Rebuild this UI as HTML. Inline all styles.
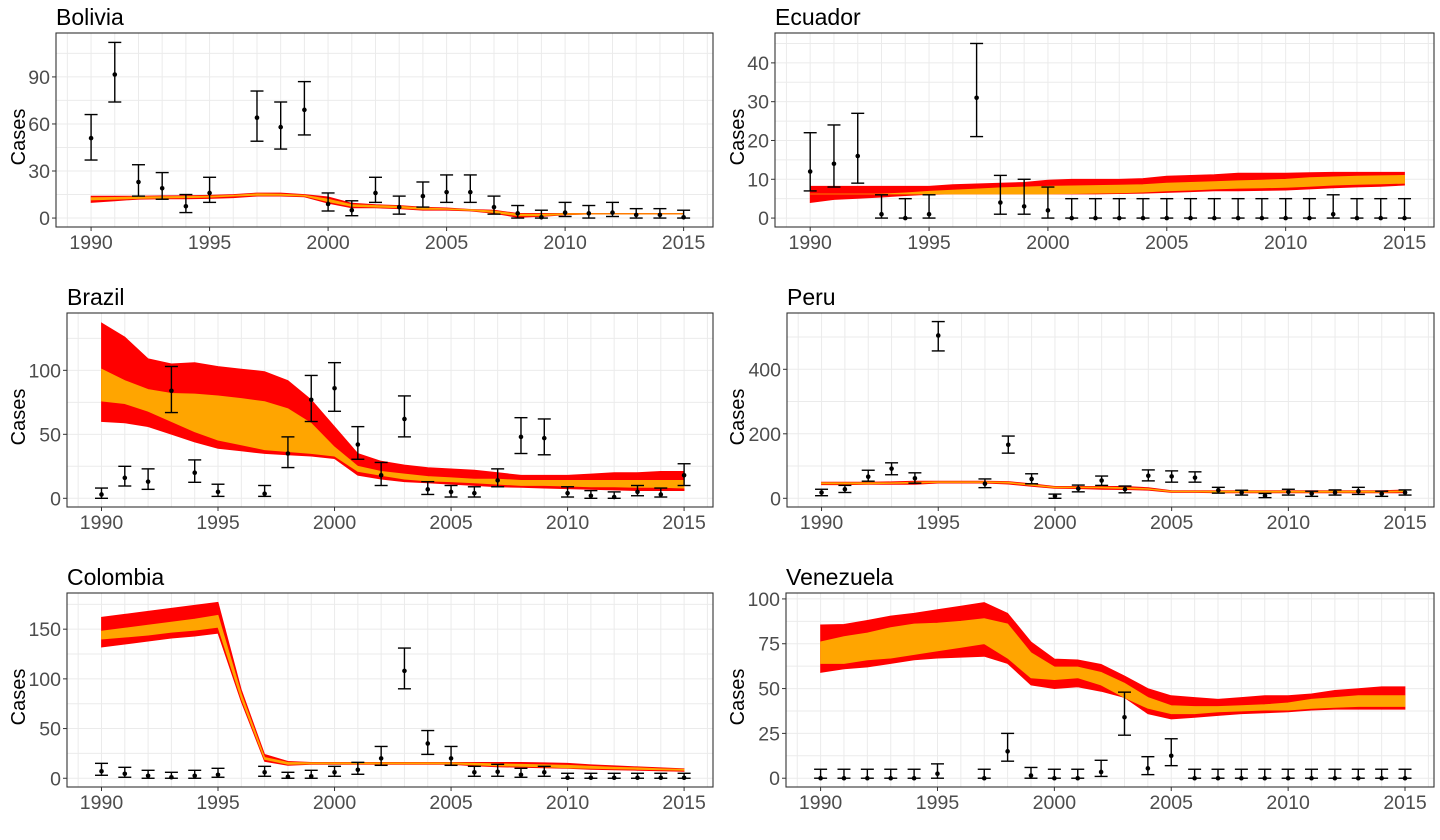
<!DOCTYPE html>
<html><head><meta charset="utf-8">
<style>
html,body{margin:0;padding:0;background:#fff;}
svg{display:block;font-family:"Liberation Sans",Arial,sans-serif;}
</style></head>
<body>
<svg id="chart" width="1440" height="840" viewBox="0 0 1440 840" xmlns="http://www.w3.org/2000/svg"></svg>
<script>
const years = [1990,1991,1992,1993,1994,1995,1996,1997,1998,1999,2000,2001,2002,2003,2004,2005,2006,2007,2008,2009,2010,2011,2012,2013,2014,2015];
const xTicks = [1990,1995,2000,2005,2010,2015];

// Bolivia
const boliviaPointYears = [1990,1991,1992,1993,1994,1995,1997,1998,1999,2000,2001,2002,2003,2004,2005,2006,2007,2008,2009,2010,2011,2012,2013,2014,2015];
const boliviaCases = [51,91.5,23,19,7.5,16,64,58,69,9,5,16,7,14,16.5,16.5,7,3,0.5,3.5,3,3.5,2,2,0.5];
const boliviaLow = [37,74,14,12,3.5,10,49,44,53,4.5,1.5,10,2.5,7,10,10,2.5,0,0,1,0,1,0,0,0];
const boliviaHigh = [66,112,34,29,15,26,81,74,87,16,11,26,14,23,27.5,27.5,14,8,5,10,8,10,6,6,5];
const boliviaU95 = [14,14,14,14.2,14.3,14.5,15,16,16,15,13.5,9.5,8.5,8,7,6.5,5.5,5,3,3,3,3,3,3,3,3];
const boliviaU50 = [13,13.2,13.5,13.7,13.8,14,14.5,15.5,15.3,14.5,12,8.5,8,7.5,6.5,6,5.3,4.5,2.5,2.5,2.8,2.8,2.8,2.8,2.8,2.8];
const boliviaL50 = [11.5,12,12.5,12.8,13,13.3,14,14.5,14.5,14,10.5,7.5,7,6.5,5.5,5.5,4.8,3.5,1.5,1.5,2.3,2.6,2.6,2.6,2.6,2.6];
const boliviaL95 = [10,11,12,12.2,12.3,12.5,13,14,14,13.5,9.5,6.5,6.5,6,5,5,4.5,3,0.5,1,2,2.5,2.5,2.5,2.5,2.5];
const boliviaYTicks = [0,30,60,90];

// Ecuador
const ecuadorPointYears = [1990,1991,1992,1993,1994,1995,1997,1998,1999,2000,2001,2002,2003,2004,2005,2006,2007,2008,2009,2010,2011,2012,2013,2014,2015];
const ecuadorCases = [12,14,16,1,0,1,31,4,3,2,0,0,0,0,0,0,0,0,0,0,0,1,0,0,0];
const ecuadorLow = [7,8,9,0,0,0,21,1,1,0,0,0,0,0,0,0,0,0,0,0,0,0,0,0,0];
const ecuadorHigh = [22,24,27,6,5,6,45,11,10,8,5,5,5,5,5,5,5,5,5,5,5,6,5,5,5];
const ecuadorU95 = [8.2,8.2,8.2,8.2,8.2,8.2,8.6,8.8,9,9.2,9.8,10,10,10,10.2,10.8,11,11.2,11.6,11.6,11.6,11.7,11.8,11.8,11.8,11.8];
const ecuadorU50 = [6.2,6.2,6.2,6.2,6.5,6.9,7.2,7.5,7.8,8,8.2,8.3,8.4,8.5,8.6,9,9.2,9.4,9.6,9.8,10,10.4,10.6,10.8,10.9,11];
const ecuadorL50 = [6.2,6.2,6.2,6.2,6.2,6.2,6.2,6.2,6.2,6.2,6.2,6.3,6.4,6.5,6.7,7,7.2,7.5,7.7,7.8,7.9,8.2,8.5,8.7,8.8,9];
const ecuadorL95 = [4,4.8,5.1,5.4,5.8,6.1,6.2,6.2,6.2,6.2,6.2,6.2,6.2,6.3,6.4,6.6,6.8,7,7,7.1,7.2,7.5,7.8,8,8.2,8.5];
const ecuadorYTicks = [0,10,20,30,40];

// Brazil
const brazilPointYears = [1990,1991,1992,1993,1994,1995,1997,1998,1999,2000,2001,2002,2003,2004,2005,2006,2007,2008,2009,2010,2011,2012,2013,2014,2015];
const brazilCases = [3,16,13,84,20,5,3.6,35,77,86,42,18,62,7,5,4,14,48,47,4,2,1,5,3,18];
const brazilLow = [0,9.6,7,67,12.5,1.5,1.5,24,60,68,30.5,10,48,3,1,1,9,35,34,1,0,0,2,1,10];
const brazilHigh = [8,25,23,103,30,11,10,48,96,106,56,28,80,13,10,9,23,63,62,9,6,5,10,8,27];
const brazilU95 = [137,126,109,105,106,103,101,99,92,77,56,35,29,26,24,23,22,20,18,18,18,19,20,20,21,21];
const brazilU50 = [101,92,85,82,81.5,80,78,75.5,70,58.6,40,25,21,19,17,16,15,15,14,14,14,14,14,14,14,14];
const brazilL50 = [76,74,68,60,52,45.5,41.7,38,36.5,35,33,21,18,15,13.5,13,12,11,10,10,9.5,9,9,8.5,8.5,8];
const brazilL95 = [60,59,56,50,44,39,37,35,34,33,31,18,15,13,12,11,10,9,8.5,8,7.5,7,6.5,6,6,6];
const brazilYTicks = [0,50,100];

// Peru
const peruPointYears = [1990,1991,1992,1993,1994,1995,1997,1998,1999,2000,2001,2002,2003,2004,2005,2006,2007,2008,2009,2010,2011,2012,2013,2014,2015];
const peruCases = [18,28,67,92,62,505,45,166,60,7,30,55,28,70,68,64,25,18,8,20,15,18,22,14,18];
const peruLow = [8,18,53,73,47,457,33,140,45,0,20,40,17,54,50,50,16,10,2,10,6,10,12,6,10];
const peruHigh = [28,40,87,110,79,548,60,193,76,13,41,69,38,88,85,82,34,25,15,28,22,26,34,22,26];
const peruU95 = [50,50,50,51,53,53,53,53,52,45,37,37,37,37,33,24,24,24,24,24,24,24,24,24,24,26];
const peruU50 = [48,48,48,48,50,51,51,51,50,42,35,35,35,33,30,22,22,22,22,22,22,22,22,22,22,23];
const peruL50 = [45,45,45,46,47,49,49,49,47,40,33,33,32,30,28,20,20,19,19,19,19,19,19,19,19,20];
const peruL95 = [42,42,43,43,43,47,47,47,44,37,31,30,28,27,25,18,18,17,17,17,17,17,17,17,17,17];
const peruYTicks = [0,200,400];

// Colombia
const colombiaPointYears = [1990,1991,1992,1993,1994,1995,1997,1998,1999,2000,2001,2002,2003,2004,2005,2006,2007,2008,2009,2010,2011,2012,2013,2014,2015];
const colombiaCases = [7,4.5,2.5,1,2.5,3.5,6,1.5,2,6,8.5,20,108,35,20,6,6.5,3.5,6,0.5,0.5,0.5,0.5,0.5,0.5];
const colombiaLow = [3,1,0,0,0,1,2,0,0,2,4,13,90,24,13,2,2,1,2,0,0,0,0,0,0];
const colombiaHigh = [15,11,8,6,8,10,12,6,8,12,16,32,131,48,32,12,14,10,12,5,5,5,5,5,5];
const colombiaU95 = [162,165,168,171,174,177,89,24,17,16,16,16,16,16,16,16,16,16,16,15.5,15,13.5,12.5,11.5,10.5,9.5];
const colombiaU50 = [148,151,154,157,160,164,85,21,16,15.5,15.5,15.5,15.5,15.5,15.5,15.5,15,14.5,14,13.5,13,12,11,10.5,9.5,9];
const colombiaL50 = [140,142,144,147,149,152,80,19,14,14.5,14.5,14.5,14.5,14.5,14.5,14.5,13.5,12.5,12,11.5,10.5,10,9.5,9,8.5,8];
const colombiaL95 = [132,135,138,141,143,146,77,17,13,14,14,14,14,14,14,14,12.5,11.5,11,10.5,10,9,8.5,8,7.5,7];
const colombiaYTicks = [0,50,100,150];

// Venezuela
const venezuelaPointYears = [1990,1991,1992,1993,1994,1995,1997,1998,1999,2000,2001,2002,2003,2004,2005,2006,2007,2008,2009,2010,2011,2012,2013,2014,2015];
const venezuelaCases = [0,0,0,0,0,2.5,0,15,1.5,0,0,3.5,34,5.5,12.5,0,0,0,0,0,0,0,0,0,0];
const venezuelaLow = [0,0,0,0,0,0,0,9.5,0,0,0,1,24,2,7,0,0,0,0,0,0,0,0,0,0];
const venezuelaHigh = [5,5,5,5,5,8,5,25,6,5,5,10,48,12,22,5,5,5,5,5,5,5,5,5,5];
const venezuelaU95 = [85.5,85.8,88,90.5,92,94,96,98,92,76,66.5,66,63.5,57,50,46,45,44,45,46,46,47,49,50,51,51];
const venezuelaU50 = [76,79,81,84,86,86.5,87.5,89,86,70,62,62,59,53,45,40.5,40,40,40.5,41,42,44,45,46,46,46];
const venezuelaL50 = [64,64,66,67,69,71,73,75,67,56,55,56,52,45,39,36,36,37,37.5,38,38,39,39.5,40,40,40];
const venezuelaL95 = [59,61,62,64,66,67,67.5,68,64,52,50,51,48.5,45,36,33,34,35,36,36.5,37,38,38.5,38.5,38.5,38.5];
const venezuelaYTicks = [0,25,50,75,100];

const NS = "http://www.w3.org/2000/svg";
const svg = document.getElementById('chart');
function mk(tag, attrs, parent){
  const e = document.createElementNS(NS, tag);
  for (const k in attrs) e.setAttribute(k, attrs[k]);
  (parent||svg).appendChild(e);
  return e;
}

const panels = [
  {name:'Bolivia', key:'bolivia', L:56, R:713, T:33, B:227, ymin:-5.7, ymax:118, ticks:boliviaYTicks, py:boliviaPointYears, c:boliviaCases, lo:boliviaLow, hi:boliviaHigh, u95:boliviaU95, u50:boliviaU50, l50:boliviaL50, l95:boliviaL95, cx:18},
  {name:'Ecuador', key:'ecuador', L:775, R:1434, T:33, B:227, ymin:-2.3, ymax:47.7, ticks:ecuadorYTicks, py:ecuadorPointYears, c:ecuadorCases, lo:ecuadorLow, hi:ecuadorHigh, u95:ecuadorU95, u50:ecuadorU50, l50:ecuadorL50, l95:ecuadorL95, cx:737},
  {name:'Brazil', key:'brazil', L:67, R:713, T:313, B:507, ymin:-6.8, ymax:144.8, ticks:brazilYTicks, py:brazilPointYears, c:brazilCases, lo:brazilLow, hi:brazilHigh, u95:brazilU95, u50:brazilU50, l50:brazilL50, l95:brazilL95, cx:18},
  {name:'Peru', key:'peru', L:787, R:1434, T:313, B:507, ymin:-27, ymax:574.6, ticks:peruYTicks, py:peruPointYears, c:peruCases, lo:peruLow, hi:peruHigh, u95:peruU95, u50:peruU50, l50:peruL50, l95:peruL95, cx:737},
  {name:'Colombia', key:'colombia', L:67, R:713, T:593, B:787, ymin:-8.8, ymax:186.4, ticks:colombiaYTicks, py:colombiaPointYears, c:colombiaCases, lo:colombiaLow, hi:colombiaHigh, u95:colombiaU95, u50:colombiaU50, l50:colombiaL50, l95:colombiaL95, cx:18},
  {name:'Venezuela', key:'venezuela', L:786, R:1434, T:593, B:787, ymin:-4.9, ymax:103.3, ticks:venezuelaYTicks, py:venezuelaPointYears, c:venezuelaCases, lo:venezuelaLow, hi:venezuelaHigh, u95:venezuelaU95, u50:venezuelaU50, l50:venezuelaL50, l95:venezuelaL95, cx:737}
];
const XMIN = 1988.52, XMAX = 2016.24;

panels.forEach(p => {
  const g = mk('g', {});
  
  
  const x = v => p.L + (v - XMIN) / (XMAX - XMIN) * (p.R - p.L);
  const y = v => p.B - (v - p.ymin) / (p.ymax - p.ymin) * (p.B - p.T);

  const bg = mk('rect', {x:p.L, y:p.T, width:p.R-p.L, height:p.B-p.T, fill:'#fff'}, g);
  
  

  for (let yr = 1989; yr <= 2016; yr++) {
    const gl = mk('line', {x1:x(yr), x2:x(yr), y1:p.T, y2:p.B, stroke:'#ebebeb', 'stroke-width':1}, g);
    
    
  }
  const step = p.ticks[1] - p.ticks[0];
  for (let v = p.ticks[0] - step/2; v <= p.ymax; v += step/2) {
    if (v < p.ymin) continue;
    const gl = mk('line', {x1:p.L, x2:p.R, y1:y(v), y2:y(v), stroke:'#ebebeb', 'stroke-width':1}, g);
    
    
  }

  function band(up, low, color, nm){
    let d = 'M' + years.map((yr,i)=> x(yr).toFixed(1)+','+y(up[i]).toFixed(1)).join(' L');
    for (let i = years.length-1; i >= 0; i--) d += ' L' + x(years[i]).toFixed(1)+','+y(low[i]).toFixed(1);
    d += ' Z';
    const e = mk('path', {d:d, fill:color, stroke:color, 'stroke-width':0.8}, g);
    
    
  }
  band(p.u95, p.l95, '#ff0000', p.key + '-ribbon-95');
  band(p.u50, p.l50, '#ffa500', p.key + '-ribbon-50');

  const cap = 6.5;
  p.py.forEach((yr, i) => {
    const eg = mk('g', {}, g);
    
    
    const X = x(yr);
    mk('line', {x1:X, x2:X, y1:y(p.lo[i]), y2:y(p.hi[i]), stroke:'#000', 'stroke-width':1.4}, eg);
    mk('line', {x1:X-cap, x2:X+cap, y1:y(p.lo[i]), y2:y(p.lo[i]), stroke:'#000', 'stroke-width':1.4}, eg);
    mk('line', {x1:X-cap, x2:X+cap, y1:y(p.hi[i]), y2:y(p.hi[i]), stroke:'#000', 'stroke-width':1.4}, eg);
    const pt = mk('circle', {cx:X, cy:y(p.c[i]), r:2.3, fill:'#000'}, g);
    
    
  });

  const br = mk('rect', {x:p.L, y:p.T, width:p.R-p.L, height:p.B-p.T, fill:'none', stroke:'#333', 'stroke-width':1.1}, g);
  
  

  p.ticks.forEach(v => {
    mk('line', {x1:p.L-4, x2:p.L, y1:y(v), y2:y(v), stroke:'#333', 'stroke-width':1}, g);
    const t = mk('text', {x:p.L-6, y:y(v)+7, 'text-anchor':'end', 'font-size':19.5, fill:'#4d4d4d'}, g);
    t.textContent = v;
    
    
  });
  xTicks.forEach(v => {
    mk('line', {x1:x(v), x2:x(v), y1:p.B, y2:p.B+4, stroke:'#333', 'stroke-width':1}, g);
    const t = mk('text', {x:x(v), y:p.B+22, 'text-anchor':'middle', 'font-size':19.5, fill:'#4d4d4d'}, g);
    t.textContent = v;
    
    
  });
  const tt = mk('text', {x:p.L, y:p.T-8, 'font-size':23, fill:'#000'}, g);
  tt.textContent = p.name;
  
  
  const cy = (p.T + p.B) / 2;
  const ya = mk('text', {x:p.cx, y:cy, 'font-size':20, fill:'#000', 'text-anchor':'middle', transform:'rotate(-90 '+(p.cx+7)+' '+cy+')'}, g);
  ya.textContent = 'Cases';
  
  
});
</script>
</body></html>
